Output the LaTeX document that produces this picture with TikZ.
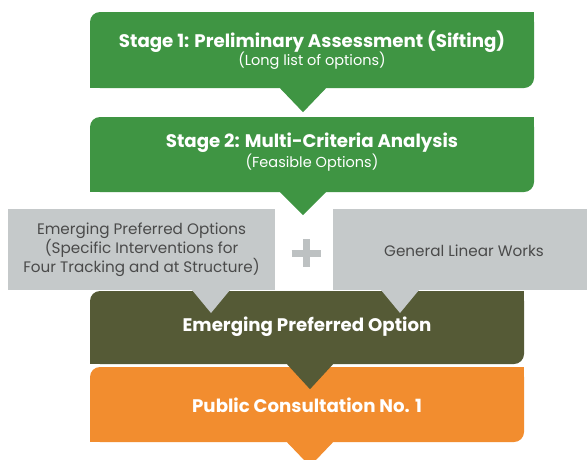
\documentclass[tikz,border=0pt]{standalone}
\usepackage{fontspec}
\setmainfont{Poppins}
\usetikzlibrary{calc}
\definecolor{stagegreen}{HTML}{3F9543}
\definecolor{prefolive}{HTML}{555A36}
\definecolor{consultorange}{HTML}{F28D2F}
\definecolor{panelgray}{HTML}{C5C9CA}
\definecolor{plusgray}{HTML}{BDC1C2}
\definecolor{labelgray}{HTML}{4A4A4A}
\newcommand{\headfont}{\bfseries\fontsize{18.2}{20}\selectfont}
\newcommand{\subfont}{\fontsize{14.5}{16}\selectfont}
\tikzset{
  box/.style={minimum width=444pt, minimum height=76pt, inner sep=0pt, rounded corners=10pt},
  panel/.style={fill=panelgray, inner sep=0pt, minimum height=81pt},
  head/.style={text=white, align=center, inner sep=0pt},
  note/.style={text=labelgray, align=center, inner sep=0pt, font=\fontsize{15.2}{17.5}\selectfont},
}
\begin{document}
\begin{tikzpicture}[x=1pt,y=-1pt]
  \useasboundingbox[fill=white] (0,0) rectangle (587,459);
  % stage boxes
  \node[box, fill=stagegreen] (s1) at (312,50) {};
  \fill[stagegreen] (s1.north east) rectangle ++(-12,12);
  \fill[stagegreen] (s1.south west) rectangle ++(12,-12);
  \fill[stagegreen] ($(s1.south)+(-32,0)$) -- ($(s1.south)+(14,0)$) -- ++(-23,24) -- cycle;
  \node[head] (t1) at (312,50) {{\headfont Stage 1: Preliminary Assessment (Sifting)}\\[-1pt]{\subfont (Long list of options)}};

  \node[box, fill=stagegreen, minimum height=75pt] (s2) at (312,154.5) {};
  \fill[stagegreen] (s2.north east) rectangle ++(-12,12);
  \fill[stagegreen] (s2.south west) rectangle ++(12,-12);
  \fill[stagegreen] ($(s2.south)+(-32,0)$) -- ($(s2.south)+(14,0)$) -- ++(-23,23) -- cycle;
  \node[head] (t2) at (312,152) {{\headfont Stage 2: Multi-Criteria Analysis}\\[1pt]{\subfont (Feasible Options)}};

  % options
  \node[panel, minimum width=267pt] (p1) at (141.5,249.5) {};
  \node[panel, minimum width=254pt] (p2) at (460,249.5) {};
  \node[note] (n1) at (141.5,249.5) {Emerging Preferred Options\\(Specific Interventions for\\Four Tracking and at Structure)};
  \node[note] (n2) at (464,251) {General Linear Works};
  \coordinate (plus) at (306,253);
  \draw[plusgray, line width=7pt] ($(plus)+(-14.5,0)$) -- ($(plus)+(14.5,0)$)
                                  ($(plus)+(0,-14)$) -- ($(plus)+(0,14)$);

  % preferred option
  \node[box, fill=prefolive, minimum width=434pt, minimum height=73pt] (s3) at (307,327.5) {};
  \fill[prefolive] (s3.north east) rectangle ++(-12,12);
  \fill[prefolive] (s3.south west) rectangle ++(12,-12);
  \foreach \x in {211,400}
    \fill[panelgray] (\x-19,290) -- (\x+19,290) -- (\x,313) -- cycle;
  \node[head] (t3) at (307,327) {\headfont Emerging Preferred Option};

  % consultation
  \node[box, fill=consultorange, minimum width=434pt, minimum height=75pt] (s4) at (307,404.5) {};
  \fill[consultorange] (s4.north east) rectangle ++(-12,12);
  \fill[consultorange] (s4.south west) rectangle ++(12,-12);
  \fill[prefolive] ($(s3.south)+(-20,0)$) -- ($(s3.south)+(26,0)$) -- ++(-23,25) -- cycle;
  \fill[consultorange] ($(s4.south)+(-20,0)$) -- ($(s4.south)+(26,0)$) -- ++(-23,24) -- cycle;
  \node[head] (t4) at (307,405) {\headfont Public Consultation No. 1};
\end{tikzpicture}
\end{document}
